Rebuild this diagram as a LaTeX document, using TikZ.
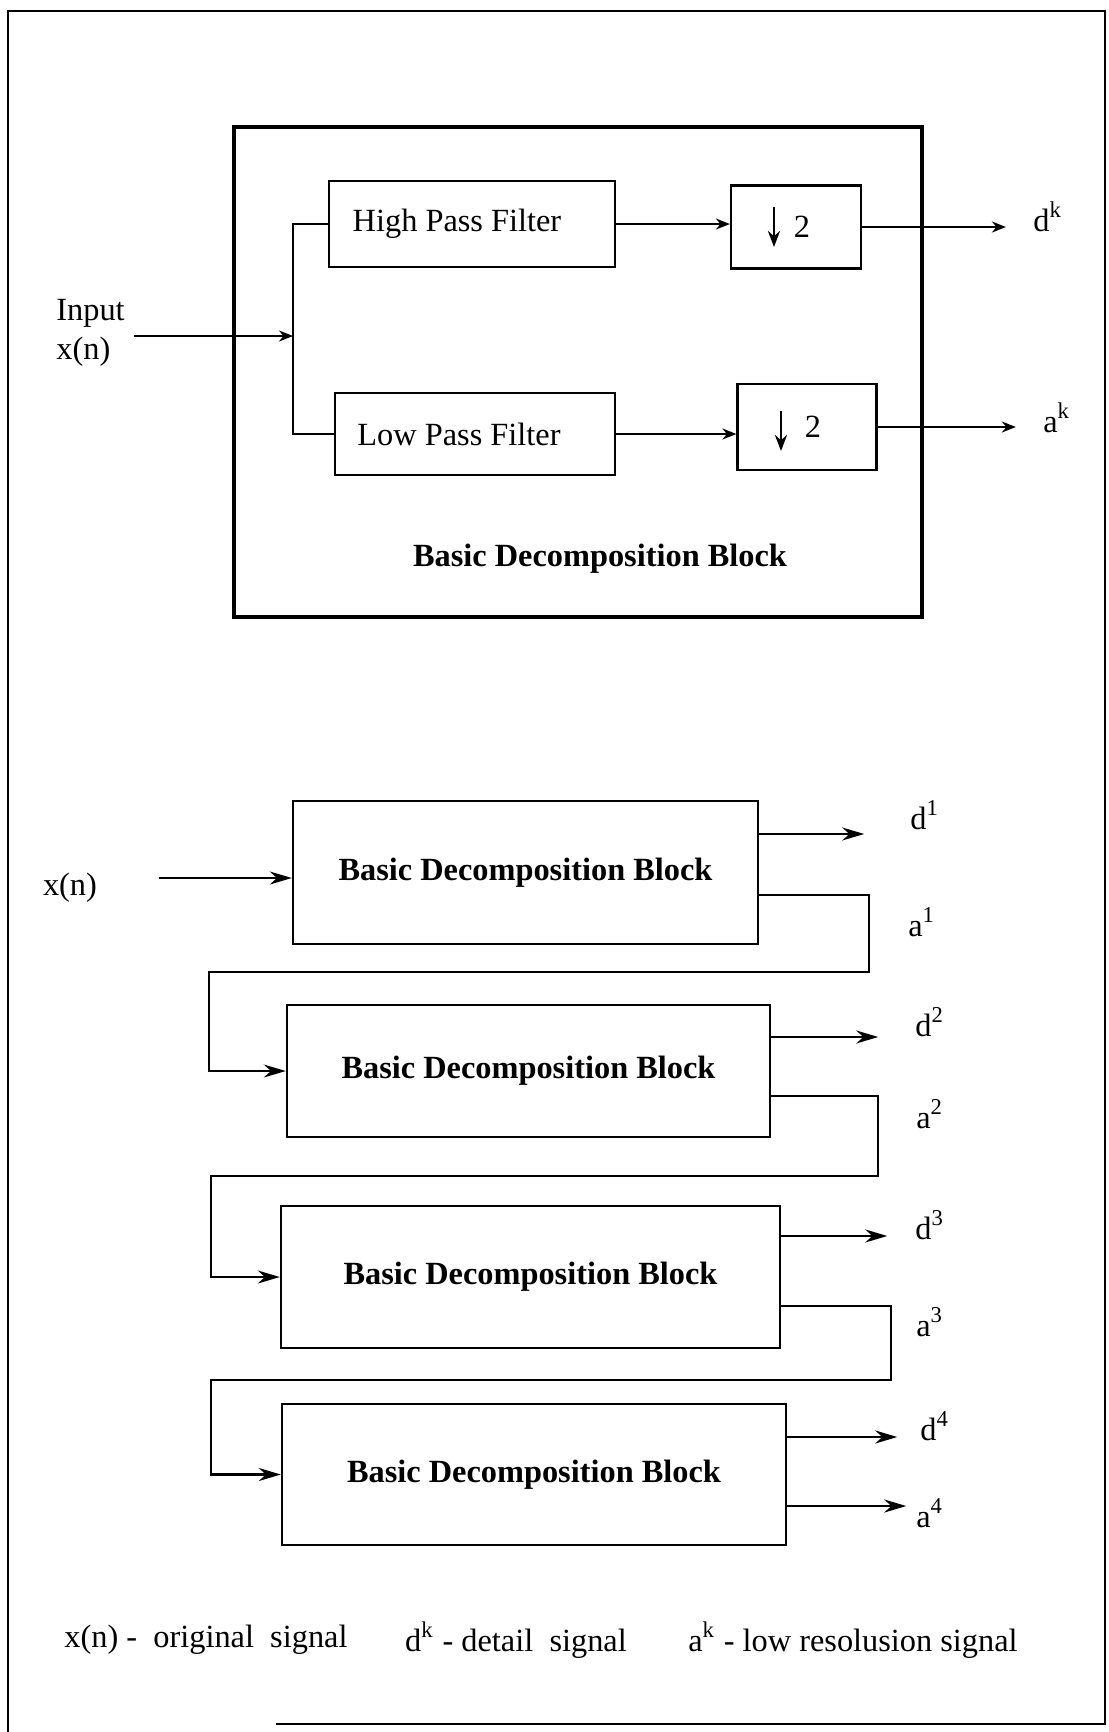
\documentclass[tikz,border=0pt]{standalone}
\usepackage{fontspec}
\setmainfont{Liberation Serif}
\usetikzlibrary{arrows.meta,positioning}

\begin{document}
\begin{tikzpicture}[
  x=0.01cm, y=-0.01cm,
  font=\fontsize{9.2}{11}\selectfont,
  sig/.style={semithick, -{Stealth[length=2.2mm, width=1.3mm]}},
  tap/.style={semithick, -{Stealth[length=1.4mm, width=1.1mm]}},
  halve/.style={thick, -{Stealth[length=1.6mm, width=1.2mm]}},
  filt/.style={draw, semithick, minimum width=2.85cm, minimum height=0.86cm, inner sep=0pt},
  dsamp/.style={draw, semithick, minimum width=1.34cm, minimum height=0.83cm, inner sep=0pt},
  stage/.style={draw, semithick, minimum height=1.4cm, inner sep=0pt, font=\fontsize{9.2}{11}\selectfont\bfseries}
]
  \useasboundingbox (0,0) rectangle (1108,1732);
  \draw[semithick] (8,1732) |- (1105,11) |- (276,1724);

  % basic decomposition block
  \node[draw, very thick, minimum width=6.87cm, minimum height=4.9cm] (unit) at (578,372) {};
  \node[font=\fontsize{9.2}{11}\selectfont\bfseries] (unittitle) at (600,559) {Basic Decomposition Block};
  \node[filt] (hpf) at (472,224) {High Pass Filter\hspace*{3mm}};
  \node[filt, minimum width=2.79cm, minimum height=0.82cm] (lpf) at (475,434) {Low Pass Filter\hspace*{3.2mm}};
  \node[dsamp, minimum width=1.3cm] (dsh) at (796,227) {\hspace*{1.2mm}2};
  \node[dsamp, minimum width=1.39cm, minimum height=0.86cm] (dsl) at (807,427) {\hspace*{1.2mm}2};
  \draw[halve] ([xshift=-0.22cm, yshift=0.2cm]dsh.center) -- ++(0,-0.4cm);
  \draw[halve] ([xshift=-0.26cm, yshift=0.16cm]dsl.center) -- ++(0,-0.4cm);
  \node[align=left, anchor=west] (input) at (44,333) {Input\\x(n)};
  \node (dk) at (1048,217) {d\textsuperscript{k}};
  \node (ak) at (1057,418) {a\textsuperscript{k}};

  \coordinate (xin) at (134,336);
  \coordinate (fork) at (293,336);
  \draw[tap] (xin) -- (fork);
  \draw[semithick] (hpf.west) -| (fork) |- (lpf.west);
  \draw[tap] (hpf.east) -- (hpf.east -| dsh.west);
  \draw[tap] (lpf.east) -- (lpf.east -| dsl.west);
  \draw[tap, shorten >=1.5mm] (dsh.east) -- (dsh.east -| dk.west);
  \draw[tap, shorten >=1.5mm] (dsl.east) -- (dsl.east -| ak.west);

  % four-level cascade
  \node[stage, minimum width=4.65cm, minimum height=1.43cm] (b1) at (525.5,872.5) {Basic Decomposition Block};
  \node[stage, minimum width=4.83cm, minimum height=1.32cm] (b2) at (528.5,1071) {Basic Decomposition Block};
  \node[stage, minimum width=4.99cm, minimum height=1.42cm] (b3) at (530.5,1277) {Basic Decomposition Block};
  \node[stage, minimum width=5.04cm, minimum height=1.41cm] (b4) at (534,1474.5) {Basic Decomposition Block};

  \node (xn) at (70,888) {x(n)};
  \coordinate (xsrc) at (159,878);
  \draw[sig] (xsrc) -- (xsrc -| b1.west);

  \node (d1) at (925,815) {d\textsuperscript{1}};
  \node (a1) at (922,922) {a\textsuperscript{1}};
  \node (d2) at (930,1022) {d\textsuperscript{2}};
  \node (a2) at (930,1114) {a\textsuperscript{2}};
  \node (d3) at (930,1225) {d\textsuperscript{3}};
  \node (a3) at (930,1322) {a\textsuperscript{3}};
  \node (d4) at (935,1426) {d\textsuperscript{4}};
  \node (a4) at (930,1513) {a\textsuperscript{4}};

  \draw[sig] ([yshift=0.385cm]b1.east) -- ++(1.05cm,0);
  \draw[sig] ([yshift=0.34cm]b2.east) -- ++(1.07cm,0);
  \draw[sig] ([yshift=0.41cm]b3.east) -- ++(1.06cm,0);
  \draw[sig] ([yshift=0.375cm]b4.east) -- ++(1.1cm,0);
  \draw[sig] ([yshift=-0.315cm]b4.east) -- ++(1.19cm,0);

  % approximation fed to the next level
  \draw[sig] ([yshift=-0.225cm]b1.east) -- ++(1.1cm,0) -- ++(0,-0.77cm) -| ([xshift=-0.77cm]b2.west) -- (b2.west);
  \draw[sig] ([yshift=-0.25cm]b2.east) -- ++(1.07cm,0) -- ++(0,-0.8cm) -| ([xshift=-0.69cm]b3.west) -- (b3.west);
  \draw[sig] ([yshift=-0.29cm]b3.east) -- ++(1.1cm,0) -- ++(0,-0.74cm) -| ([xshift=-0.7cm]b4.west) -- (b4.west);

  % key
  \node (key1) at (206,1640) {x(n) -\ \ original\ \ signal};
  \node (key2) at (516,1640) {d\textsuperscript{k} - detail\ \ signal};
  \node (key3) at (853,1640) {a\textsuperscript{k} - low resolusion signal};
\end{tikzpicture}
\end{document}
